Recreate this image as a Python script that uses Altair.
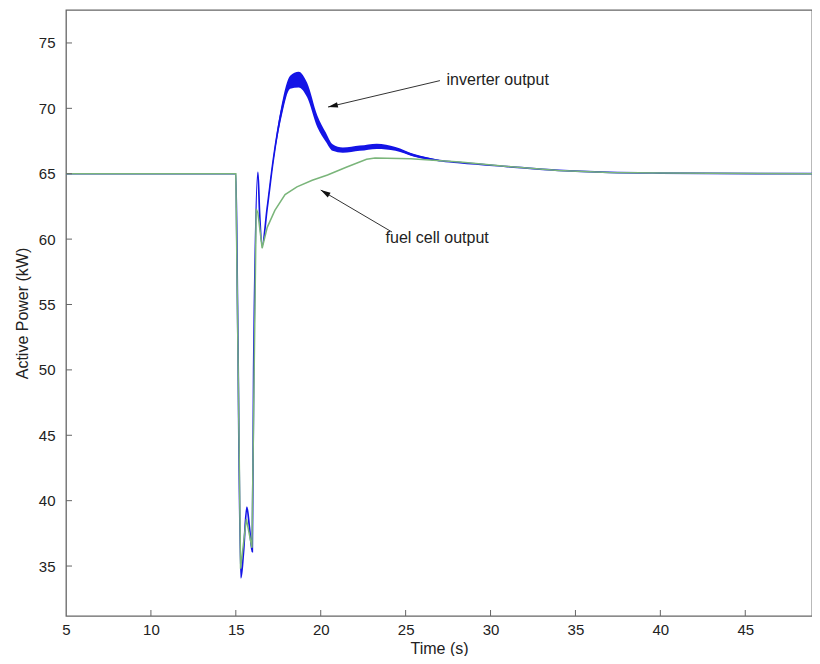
import altair as alt
import pandas as pd

# ---- data ----
green_t = [5, 15.0, 15.28, 15.62, 15.95, 16.2, 16.3, 16.55, 16.85, 17.3, 17.9, 18.6, 19.5,
           20.4, 21.5, 22.7, 23.2, 25.3, 28.2, 31, 34, 37, 40, 49.3]
green_p = [65, 65, 34.8, 38.6, 36.4, 62.3, 62.0, 59.3, 60.9, 62.2, 63.4, 64.0, 64.5,
           64.9, 65.5, 66.1, 66.2, 66.15, 65.9, 65.55, 65.25, 65.1, 65.05, 65.0]

blue_t = [5, 15.0, 15.1, 15.3, 15.45, 15.65, 15.8, 15.97, 16.05, 16.3, 16.4, 16.55, 16.85,
          17.2, 17.7, 18.2, 18.7, 19.2, 19.8, 20.3, 20.7, 21.3, 22.3, 23.3, 24.4, 25.5,
          27.0, 28.2, 31, 34, 37, 40, 49.3]
blue_p = [65, 65, 55, 34.1, 36.0, 39.5, 38.0, 36.1, 50, 65.1, 62.0, 59.5, 62.4,
          66.0, 69.85, 72.0, 72.2, 71.4, 69.0, 67.8, 67.0, 66.8, 66.95, 67.1, 66.9, 66.4,
          66.0, 65.85, 65.55, 65.25, 65.1, 65.05, 65.0]

band_t = [16.85, 17.2, 17.7, 18.2, 18.7, 19.2, 19.8, 20.3, 20.7, 21.3, 22.3, 23.3, 24.4, 25.5, 27.0]
band_lo = [62.3, 65.8, 69.4, 71.5, 71.6, 70.85, 68.55, 67.45, 66.75, 66.6, 66.75, 66.9, 66.75, 66.3, 65.95]
band_hi = [62.5, 66.2, 70.3, 72.5, 72.8, 71.95, 69.45, 68.15, 67.25, 67.0, 67.15, 67.3, 67.05, 66.5, 66.05]

x_ticks = [5, 10, 15, 20, 25, 30, 35, 40, 45]
y_ticks = [35, 40, 45, 50, 55, 60, 65, 70, 75]

labels = ["inverter output", "fuel cell output"]
label_t = [27.41, 23.82]
label_p = [72.17, 60.08]
arrow_tail_t = [27.02, 24.2]
arrow_tail_p = [72.12, 60.54]
arrow_tip_t = [20.43, 20.0]
arrow_tip_p = [70.1, 63.75]
arrow_angle = [257, 301]

# ---- tables ----
green_df = pd.DataFrame({"t": green_t, "P": green_p})
blue_df = pd.DataFrame({"t": blue_t, "P": blue_p})
band_df = pd.DataFrame({"t": band_t, "P": band_lo, "P2": band_hi})
xt_df = pd.DataFrame({"t": x_ticks[1:]})
yt_df = pd.DataFrame({"P": y_ticks})
lab_df = pd.DataFrame({"t": label_t, "P": label_p, "txt": labels})
arrow_rows = []
for i in range(len(labels)):
    arrow_rows.append({"t": arrow_tail_t[i], "P": arrow_tail_p[i], "k": i, "o": 0})
    arrow_rows.append({"t": arrow_tip_t[i], "P": arrow_tip_p[i], "k": i, "o": 1})
arrow_df = pd.DataFrame(arrow_rows)
head_df = pd.DataFrame({"t": arrow_tip_t, "P": arrow_tip_p, "a": arrow_angle})

W, H = 746, 606
xscale = alt.Scale(domain=[5, 48.93], nice=False, zero=False)
yscale = alt.Scale(domain=[31.18, 77.52], nice=False, zero=False)
xaxis = alt.Axis(values=x_ticks, ticks=False, domain=False, grid=False, labelPadding=6,
                 labelOverlap=False, labelFlush=False, titlePadding=3)
yaxis = alt.Axis(values=y_ticks, ticks=False, domain=False, grid=False, labelPadding=11,
                 labelOverlap=False, labelFlush=False, titlePadding=8)
X = alt.X("t:Q", scale=xscale, axis=xaxis, title="Time (s)")
Y = alt.Y("P:Q", scale=yscale, axis=yaxis, title="Active Power (kW)")

BLUE = "#1414e6"
GREEN = "#7ab57a"

band = alt.Chart(band_df).mark_area(color=BLUE, opacity=1, interpolate="monotone").encode(
    x=X, y=Y, y2="P2:Q")
blue = alt.Chart(blue_df).mark_line(color=BLUE, strokeWidth=1.7, interpolate="monotone").encode(
    x=X, y=Y, order="t:Q")
green = alt.Chart(green_df).mark_line(color=GREEN, strokeWidth=1.5).encode(x=X, y=Y)

xt = alt.Chart(xt_df).mark_rule(color="#666", strokeWidth=1).encode(
    x=X, y=alt.value(H), y2=alt.value(H - 6))
yt = alt.Chart(yt_df).mark_rule(color="#666", strokeWidth=1).encode(
    y=Y, x=alt.value(0), x2=alt.value(6))

arrows = alt.Chart(arrow_df).mark_line(color="#333", strokeWidth=1).encode(
    x=X, y=Y, detail="k:N", order="o:Q")
heads = alt.Chart(head_df).mark_point(
    shape="M0,0L0.5,1.8L-0.5,1.8Z", filled=True, color="#111", opacity=1, size=120
).encode(x=X, y=Y, angle=alt.Angle("a:Q", scale=None))
texts = alt.Chart(lab_df).mark_text(
    align="left", baseline="middle", fontSize=16, font="Liberation Sans", color="#222"
).encode(x=X, y=Y, text="txt:N")

chart = alt.layer(band, blue, green, xt, yt, arrows, heads, texts).properties(
    width=W, height=H,
    autosize=alt.AutoSizeParams(type="none"),
    padding={"left": 58, "top": 2, "right": 0, "bottom": 40},
).configure_view(
    stroke="#666", strokeWidth=1.3
).configure_axis(
    labelFont="Liberation Sans", labelFontSize=15, labelColor="#222",
    titleFont="Liberation Sans", titleFontSize=16, titleFontWeight="normal", titleColor="#222"
)

chart.save("out.html", embed_options={"renderer": "svg", "actions": False})
